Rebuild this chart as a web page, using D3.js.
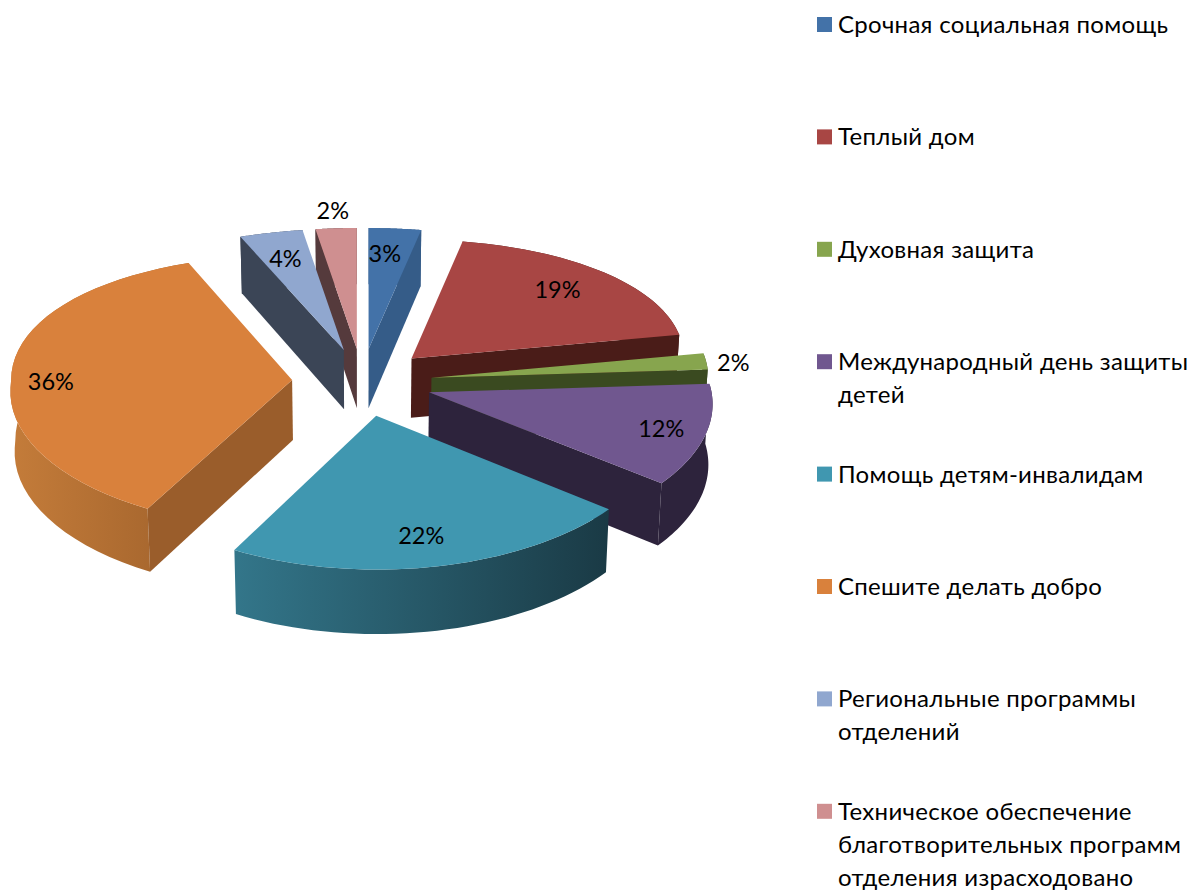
<!DOCTYPE html>
<html lang="ru">
<head>
<meta charset="utf-8">
<script src="https://cdn.jsdelivr.net/npm/d3@7/dist/d3.min.js"></script>
<style>
html,body{margin:0;padding:0;background:#fff;overflow:hidden}
svg{display:block}
text{font-family:"Lato","Open Sans",sans-serif;fill:#000}
</style>
</head>
<body>
<svg id="chart" width="1190" height="890"></svg>
<script>
// ---- data ----
const categories = [
  "Срочная социальная помощь","Теплый дом","Духовная защита",
  "Международный день защиты детей","Помощь детям-инвалидам","Спешите делать добро",
  "Региональные программы отделений",
  "Техническое обеспечение благотворительных программ отделения израсходовано"
];
const values = [3,19,2,11.8,22,36.2,3.65,2.35];
const legendLines = [
  ["Срочная социальная помощь"],["Теплый дом"],["Духовная защита"],
  ["Международный день защиты","детей"],["Помощь детям-инвалидам"],["Спешите делать добро"],
  ["Региональные программы","отделений"],
  ["Техническое обеспечение","благотворительных программ","отделения израсходовано"]
];
const topColors  = ["#4372a8","#a84644","#87a54e","#70578f","#4097b0","#d9813c","#90a7cf","#cf8f90"];
const cutColors  = ["#355c88","#4a1c18","#3a4a20","#2d233c","#1b3d49","#9a5d2b","#3b4556","#553a3c"];
const wallFrom   = ["#355c88","#4a1c18","#3a4a20","#2d233c","#33768a","#c47c3a","#3b4556","#553a3c"];
const wallTo     = ["#355c88","#4a1c18","#3a4a20","#2d233c","#1a3a45","#a2632c","#3b4556","#553a3c"];

// ---- layout ----
const rimScale   = [1,0.97,0.985,1,1,1,1,1];
const labelReach = [0.80,0.75,1.09,0.85,0.77,0.86,0.72,1.16];
const labelShiftX = [-5,-3,-2,-2,-2,0,-6,0];
const labelShiftY = [3,-1,3,1,7,8,-5,0];
const W=1190,H=890, cx=362, cy=382, R=281, explode=70, depth=60;
const flatten=0.483, camera=3500, widen=0.07;
const legendX=817, legendBox=15, legendTextX=838, legendFont=24, lineGap=33;
const legendTop = d3.scaleLinear().domain([0,1]).range([33,145.4]);

const svg=d3.select("#chart");
const defs=svg.append("defs");
const pie=d3.pie().value(d=>d).sort(null)(values);

function project(x,y){
  const s=1/(1-y/camera);
  const sx=1+widen*Math.max(0,y)/R;
  return [cx+x*sx, cy+y*flatten*s];
}
function drop(p){ return [p[0]+(cx-p[0])*0.012, p[1]+depth*(1+(p[1]-cy)*0.0004)]; }
function sliceGeom(d,i){
  const mid=(d.startAngle+d.endAngle)/2;
  const ox=explode*Math.sin(mid), oy=-explode*Math.cos(mid);
  const at=(a,r)=>project(ox+r*Math.sin(a),oy-r*Math.cos(a));
  const arc=d3.range(0,41).map(k=>{
    const a=d.startAngle+(d.endAngle-d.startAngle)*k/40;
    return at(a,R*rimScale[i]);
  });
  return {mid,at,apex:at(0,0),arc};
}
const line=d3.line();
const geoms=pie.map((d,i)=>({d,i,...sliceGeom(d,i)}));
const order=geoms.slice().sort((a,b)=>(-Math.cos(a.mid))-(-Math.cos(b.mid)));

order.forEach(g=>{
  const {i,apex,arc}=g;
  const xs=d3.extent(arc,p=>p[0]);
  const gid="wall"+i;
  const lg=defs.append("linearGradient").attr("id",gid).attr("gradientUnits","userSpaceOnUse")
    .attr("x1",xs[0]).attr("x2",xs[1]).attr("y1",0).attr("y2",0);
  lg.append("stop").attr("offset",0).attr("stop-color",wallFrom[i]);
  lg.append("stop").attr("offset",1).attr("stop-color",wallTo[i]);
  const G=svg.append("g");
  const wall=arc.concat(arc.map(drop).reverse());
  G.append("path").attr("d",line(wall)+"Z").attr("fill",`url(#${gid})`);
  const s=arc[0], e=arc[arc.length-1];
  if(s[0]<apex[0]-0.5) G.append("path").attr("d",line([apex,s,drop(s),drop(apex)])+"Z").attr("fill",cutColors[i]);
  if(e[0]>apex[0]+0.5) G.append("path").attr("d",line([apex,e,drop(e),drop(apex)])+"Z").attr("fill",cutColors[i]);
  G.append("path").attr("d",line([apex].concat(arc))+"Z").attr("fill",topColors[i]);
});

// data labels
svg.append("g").selectAll("text").data(geoms).join("text")
  .attr("x",g=>g.at(g.mid,R*labelReach[g.i])[0]+labelShiftX[g.i])
  .attr("y",g=>g.at(g.mid,R*labelReach[g.i])[1]+8+labelShiftY[g.i])
  .attr("text-anchor","middle").attr("font-size",23.5)
  .text(g=>Math.round(values[g.i])+"%");

// legend
const lg=svg.append("g").selectAll("g").data(categories).join("g");
lg.append("rect").attr("x",legendX).attr("y",(d,i)=>legendTop(i)-16)
  .attr("width",legendBox).attr("height",legendBox).attr("fill",(d,i)=>topColors[i]);
lg.each(function(d,i){
  d3.select(this).selectAll("text").data(legendLines[i]).join("text")
    .attr("x",legendTextX).attr("y",(t,j)=>legendTop(i)+j*lineGap)
    .attr("font-size",legendFont).attr("letter-spacing",0.3).text(t=>t);
});
</script>
</body>
</html>
